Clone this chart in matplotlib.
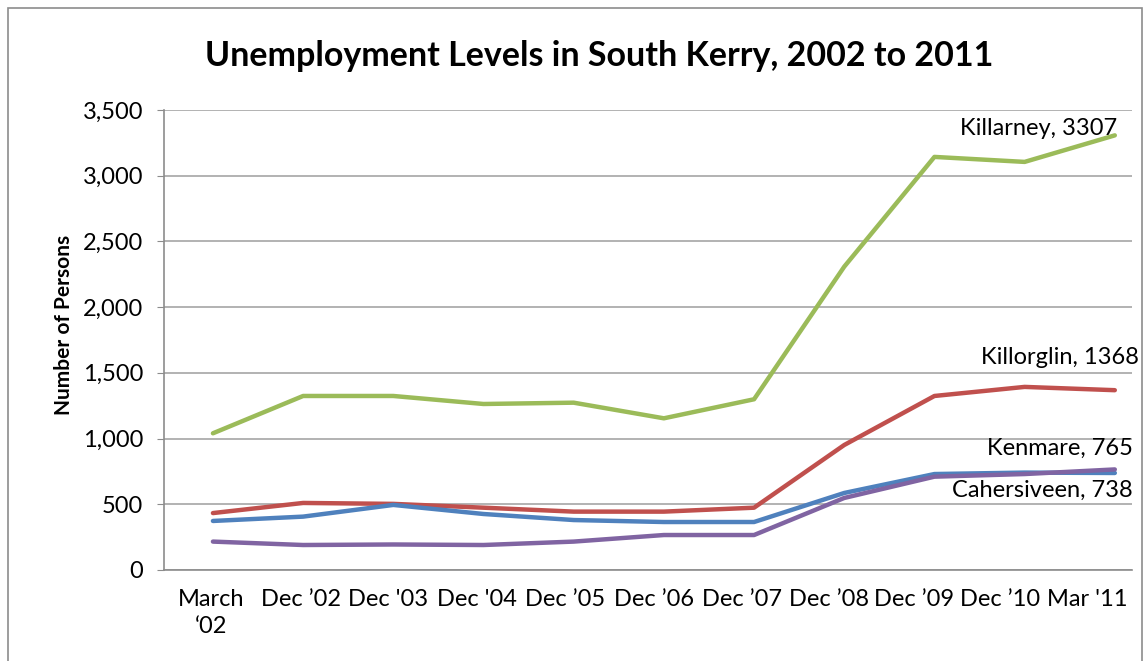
import matplotlib
matplotlib.use("Agg")
import matplotlib.pyplot as plt
from matplotlib.patches import Rectangle
from matplotlib.transforms import ScaledTranslation

plt.rcParams['font.family'] = ['Lato', 'DejaVu Sans']

periods = ["March\n\u201802", "Dec \u201902", "Dec '03", "Dec '04", "Dec \u201905", "Dec \u201906",
           "Dec \u201907", "Dec \u201908", "Dec \u201909", "Dec \u201910", "Mar '11"]
killarney = [1040, 1324, 1324, 1263, 1273, 1154, 1299, 2308, 3143, 3105, 3307]
killorglin = [433, 510, 503, 474, 444, 444, 474, 951, 1324, 1393, 1368]
cahersiveen = [373, 406, 495, 426, 380, 365, 365, 586, 730, 741, 738]
kenmare = [216, 190, 194, 190, 216, 266, 266, 548, 710, 730, 765]

fig = plt.figure(figsize=(11.45, 6.61), dpi=100)
fig.patches.append(Rectangle((0.007, -0.01), 0.99, 0.998, transform=fig.transFigure,
                             fill=False, edgecolor='#8c8c8c', linewidth=1.2))
ax = fig.add_axes([0.1432, 0.1377, 0.8454, 0.6959])

x = list(range(len(periods)))
ax.plot(x, killarney, color='#9bbb59', lw=3.2, solid_capstyle='round')
ax.plot(x, killorglin, color='#c0504d', lw=3.2, solid_capstyle='round')
ax.plot(x, cahersiveen, color='#4f81bd', lw=3.2, solid_capstyle='round')
ax.plot(x, kenmare, color='#8064a2', lw=3.2, solid_capstyle='round')

ax.text(10.03, 3356, "Killarney, 3307", ha='right', va='center', fontsize=17)
ax.text(10.27, 1613, "Killorglin, 1368", ha='right', va='center', fontsize=17)
ax.text(10.2, 928, "Kenmare, 765", ha='right', va='center', fontsize=17)
ax.text(10.2, 609, "Cahersiveen, 738", ha='right', va='center', fontsize=17)

ax.set_xlim(-0.543, 10.19)
ax.set_ylim(0, 3500)
ax.set_yticks(range(0, 3501, 500))
ax.set_yticklabels([f"{v:,}" for v in range(0, 3501, 500)], fontsize=17)
ax.set_xticks(x)
ax.set_xticklabels(periods, fontsize=17, linespacing=1.3)
ax.tick_params(axis='x', length=0, pad=14)
ax.tick_params(axis='y', length=5, color='#8c8c8c', pad=10)
# Excel squeezes the last labels a bit to the left
shifts = [-0.02, -0.02, -0.05, -0.07, -0.09, -0.1, -0.12, -0.15, -0.2, -0.25, -0.28]
for lab, s in zip(ax.get_xticklabels(), shifts):
    lab.set_transform(lab.get_transform() + ScaledTranslation(s, 0, fig.dpi_scale_trans))
ax.grid(axis='y', color='#a6a6a6', lw=1.2)
ax.set_axisbelow(True)
for s in ['top', 'right']:
    ax.spines[s].set_visible(False)
ax.spines['left'].set_color('#8c8c8c')
ax.spines['bottom'].set_color('#8c8c8c')
ax.spines['left'].set_linewidth(1.2)
ax.spines['bottom'].set_linewidth(1.2)

ax.set_ylabel("Number of Persons", fontsize=15, fontweight='bold')
ax.yaxis.set_label_coords(-0.093, 0.533)
fig.text(0.523, 0.916, "Unemployment Levels in South Kerry, 2002 to 2011",
         ha='center', va='center', fontsize=24.5, fontweight='bold')

fig.savefig("out.png", dpi=100)
